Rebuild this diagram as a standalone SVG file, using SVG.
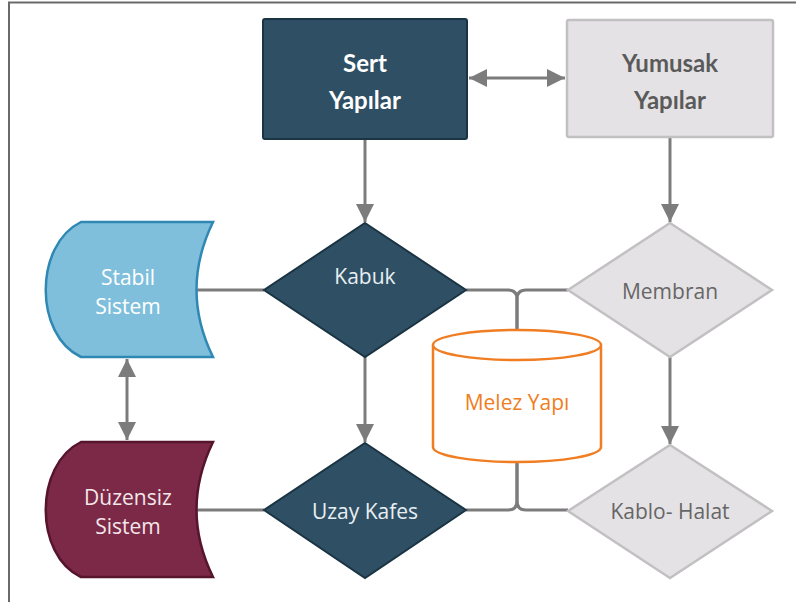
<svg xmlns="http://www.w3.org/2000/svg" width="796" height="602" viewBox="0 0 796 602">
<defs>
<style>
.ln{fill:none;stroke:#7c7c7c;stroke-width:3}
.t{font-family:"Open Sans","DejaVu Sans",sans-serif;font-size:21px;text-anchor:middle}
.tb{font-family:Lato,"Liberation Sans",sans-serif;font-size:24px;font-weight:bold;text-anchor:middle}
.dark{fill:#2f5064;stroke:#1b3444;stroke-width:2}
.grey{fill:#e5e2e5;stroke:#c2c0c2;stroke-width:2.5}
</style>
<marker id="ah" viewBox="0 0 10 10" refX="10" refY="5" markerWidth="6.5" markerHeight="6" markerUnits="strokeWidth" orient="auto-start-reverse">
<path d="M0,0 L10,5 L0,10 z" fill="#7c7c7c"/>
</marker>
</defs>
<rect width="796" height="602" fill="#fff"/>
<path d="M9,602 V2.5 H796" fill="none" stroke="#6a6a6a" stroke-width="2"/>
<g id="connectors">
<line class="ln" x1="469" y1="78" x2="565" y2="78" marker-start="url(#ah)" marker-end="url(#ah)"/>
<line class="ln" x1="365" y1="139" x2="365" y2="222" marker-end="url(#ah)"/>
<line class="ln" x1="670" y1="137" x2="670" y2="222" marker-end="url(#ah)"/>
<line class="ln" x1="365" y1="357" x2="365" y2="442" marker-end="url(#ah)"/>
<line class="ln" x1="670" y1="357" x2="670" y2="444" marker-end="url(#ah)"/>
<line class="ln" x1="127" y1="359" x2="127" y2="440" marker-start="url(#ah)" marker-end="url(#ah)"/>
<line class="ln" x1="196" y1="290" x2="264" y2="290"/>
<line class="ln" x1="196" y1="510" x2="264" y2="510"/>
<path class="ln" d="M466,290 H508 Q517,290 517,299 V330"/>
<path class="ln" d="M568,290 H526 Q517,290 517,299 V330"/>
<path class="ln" d="M466,510 H508 Q517,510 517,501 V462"/>
<path class="ln" d="M568,510 H526 Q517,510 517,501 V462"/>
</g>
<g id="sert">
<rect class="dark" x="263" y="19" width="204" height="120" rx="2"/>
<text class="tb" x="365" y="72" fill="#ffffff">Sert</text>
<text class="tb" x="365" y="109" fill="#ffffff">Yapılar</text>
</g>
<g id="yumusak">
<rect class="grey" x="567" y="20" width="206" height="117" rx="2"/>
<text class="tb" x="670" y="72" fill="#5a5a5a">Yumusak</text>
<text class="tb" x="670" y="109" fill="#5a5a5a">Yapılar</text>
</g>
<g id="kabuk">
<polygon class="dark" points="365,223 466,290 365,357 264,290"/>
<text class="t" x="365" y="284" fill="#e8eef2">Kabuk</text>
</g>
<g id="uzay">
<polygon class="dark" points="365,443 466,510 365,578 264,510"/>
<text class="t" x="365" y="519" fill="#e8eef2">Uzay Kafes</text>
</g>
<g id="membran">
<polygon class="grey" points="670,223 772,290 670,357 568,290"/>
<text class="t" x="670" y="299" fill="#666666">Membran</text>
</g>
<g id="kablo">
<polygon class="grey" points="670,445 772,511 670,578 568,511"/>
<text class="t" x="670" y="519" fill="#666666">Kablo- Halat</text>
</g>
<g id="stabil">
<path d="M81,222 H213 Q180,290 213,357 H81 C34,335 34,245 81,222 Z" fill="#7fbfdc" stroke="#2f88b3" stroke-width="2.5"/>
<text class="t" x="128" y="285" fill="#ffffff">Stabil</text>
<text class="t" x="128" y="314" fill="#ffffff">Sistem</text>
</g>
<g id="duzensiz">
<path d="M81,442 H213 Q180,510 213,577 H81 C34,555 34,465 81,442 Z" fill="#7b2946" stroke="#56142d" stroke-width="2.5"/>
<text class="t" x="128" y="505" fill="#f3e6ea">Düzensiz</text>
<text class="t" x="128" y="534" fill="#f3e6ea">Sistem</text>
</g>
<g id="melez">
<path d="M433,345 V447 A84,15 0 0 0 601,447 V345" fill="#fff" stroke="#f07d22" stroke-width="2.5"/>
<ellipse cx="517" cy="345" rx="84" ry="15" fill="#fff" stroke="#f07d22" stroke-width="2.5"/>
<text class="t" x="517" y="410" fill="#f07d22">Melez Yapı</text>
</g>
</svg>
